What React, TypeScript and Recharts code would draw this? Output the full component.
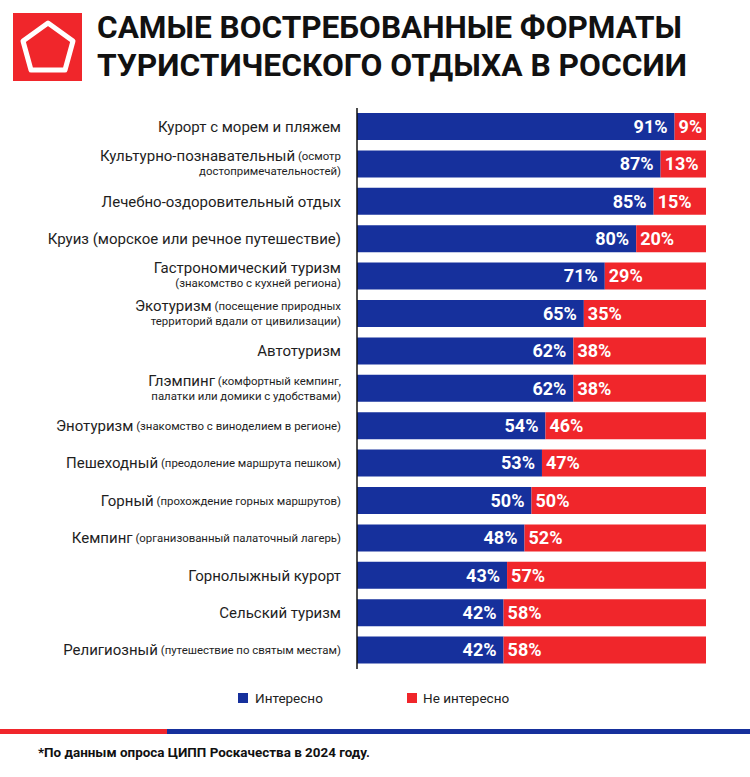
import React from 'react'
import { BarChart, Bar, XAxis, YAxis, LabelList } from 'recharts'

const BLUE = '#16309c'
const RED = '#f0262b'

// подписи категорий: крупный текст, мелкое пояснение в той же строке, вторая строка
const mainLabels = [
  'Курорт с морем и пляжем',
  'Культурно-познавательный',
  'Лечебно-оздоровительный отдых',
  'Круиз (морское или речное путешествие)',
  'Гастрономический туризм',
  'Экотуризм',
  'Автотуризм',
  'Глэмпинг',
  'Энотуризм',
  'Пешеходный',
  'Горный',
  'Кемпинг',
  'Горнолыжный курорт',
  'Сельский туризм',
  'Религиозный',
]
const inlineNotes = [
  '',
  '(осмотр',
  '',
  '',
  '',
  '(посещение природных',
  '',
  '(комфортный кемпинг,',
  '(знакомство с виноделием в регионе)',
  '(преодоление маршрута пешком)',
  '(прохождение горных маршрутов)',
  '(организованный палаточный лагерь)',
  '',
  '',
  '(путешествие по святым местам)',
]
const secondLines = [
  '',
  'достопримечательностей)',
  '',
  '',
  '(знакомство с кухней региона)',
  'территорий вдали от цивилизации)',
  '',
  'палатки или домики с удобствами)',
  '',
  '',
  '',
  '',
  '',
  '',
  '',
]
const interested = [91, 87, 85, 80, 71, 65, 62, 62, 54, 53, 50, 48, 43, 42, 42]
const notInterested = [9, 13, 15, 20, 29, 35, 38, 38, 46, 47, 50, 52, 57, 58, 58]
const seriesNames = ['Интересно', 'Не интересно']

const data = mainLabels.map((name, i) => ({
  name,
  yes: interested[i],
  no: notInterested[i],
}))

const CategoryTick = (props: any) => {
  const { x, y, payload } = props
  const i = payload.index
  const note = inlineNotes[i]
  const second = secondLines[i]
  const tx = x - 14
  const dy1 = second ? -8 : 0
  return (
    <g>
      <text
        x={tx}
        y={y + dy1}
        textAnchor="end"
        dominantBaseline="central"
        fill="#1e1e1e"
        fontFamily="Roboto, sans-serif"
      >
        <tspan fontSize={15}>{mainLabels[i]}</tspan>
        {note ? <tspan fontSize={11.4}>{' ' + note}</tspan> : null}
      </text>
      {second ? (
        <text
          x={tx}
          y={y + 7}
          textAnchor="end"
          dominantBaseline="central"
          fill="#1e1e1e"
          fontFamily="Roboto, sans-serif"
          fontSize={11.4}
        >
          {second}
        </text>
      ) : null}
    </g>
  )
}

const pct = (v: any) => `${v}%`

export default function App() {
  return (
    <div
      style={{
        position: 'fixed',
        left: 0,
        top: 0,
        width: 750,
        height: 777,
        background: '#fff',
        overflow: 'hidden',
      }}
    >
      <svg width={750} height={100} style={{ position: 'absolute', left: 0, top: 0 }}>
        <rect x={13} y={13} width={69} height={68} fill={RED} />
        <path
          d="M48 23 L73 41 L65 70 L31 70 L23 41 Z"
          fill="none"
          stroke="#fff"
          strokeWidth={5}
          strokeLinejoin="round"
        />
        <text
          x={97}
          y={38}
          fontFamily="Roboto, sans-serif"
          fontWeight={700}
          fontSize={32}
          fill="#111"
          textLength={585}
          lengthAdjust="spacingAndGlyphs"
        >
          САМЫЕ ВОСТРЕБОВАННЫЕ ФОРМАТЫ
        </text>
        <text
          x={97}
          y={76}
          fontFamily="Roboto, sans-serif"
          fontWeight={700}
          fontSize={32}
          fill="#111"
          textLength={590}
          lengthAdjust="spacingAndGlyphs"
        >
          ТУРИСТИЧЕСКОГО ОТДЫХА В РОССИИ
        </text>
      </svg>

      <div style={{ position: 'absolute', left: 0, top: 0 }}>
        <BarChart
          width={750}
          height={777}
          data={data}
          layout="vertical"
          margin={{ top: 108, right: 44, bottom: 108, left: 0 }}
        >
          <XAxis type="number" domain={[0, 100]} hide />
          <YAxis
            type="category"
            dataKey="name"
            width={357}
            tickLine={false}
            tickSize={0}
            axisLine={{ stroke: '#111', strokeWidth: 1.5 }}
            tick={<CategoryTick />}
            interval={0}
          />
          <Bar
            dataKey="yes"
            name={seriesNames[0]}
            stackId="a"
            fill={BLUE}
            barSize={27}
            isAnimationActive={false}
          >
            <LabelList
              dataKey="yes"
              position="insideRight"
              offset={7}
              formatter={pct}
              fill="#fff"
              fontSize={18}
              fontWeight={700}
              fontFamily="Roboto, sans-serif"
            />
          </Bar>
          <Bar
            dataKey="no"
            name={seriesNames[1]}
            stackId="a"
            fill={RED}
            barSize={27}
            isAnimationActive={false}
          >
            <LabelList
              dataKey="no"
              position="insideLeft"
              offset={4}
              formatter={pct}
              fill="#fff"
              fontSize={18}
              fontWeight={700}
              fontFamily="Roboto, sans-serif"
            />
          </Bar>
        </BarChart>
      </div>

      {/* легенда */}
      <div
        style={{
          position: 'absolute',
          top: 690,
          left: 238,
          display: 'flex',
          alignItems: 'center',
          fontFamily: 'Roboto, sans-serif',
          fontSize: 13.5,
          color: '#222',
        }}
      >
        <span style={{ width: 10, height: 10, background: BLUE, display: 'inline-block' }} />
        <span style={{ marginLeft: 7, width: 152 }}>{seriesNames[0]}</span>
        <span style={{ width: 10, height: 10, background: RED, display: 'inline-block' }} />
        <span style={{ marginLeft: 6 }}>{seriesNames[1]}</span>
      </div>

      <svg width={750} height={60} style={{ position: 'absolute', left: 0, top: 720 }}>
        <rect x={0} y={9} width={167} height={5} fill={RED} />
        <rect x={167} y={9} width={583} height={5} fill={BLUE} />
        <text
          x={38}
          y={37}
          fontFamily="Roboto, sans-serif"
          fontWeight={700}
          fontSize={13}
          fill="#111"
          textLength={332}
          lengthAdjust="spacingAndGlyphs"
        >
          *По данным опроса ЦИПП Роскачества в 2024 году.
        </text>
      </svg>
    </div>
  )
}
